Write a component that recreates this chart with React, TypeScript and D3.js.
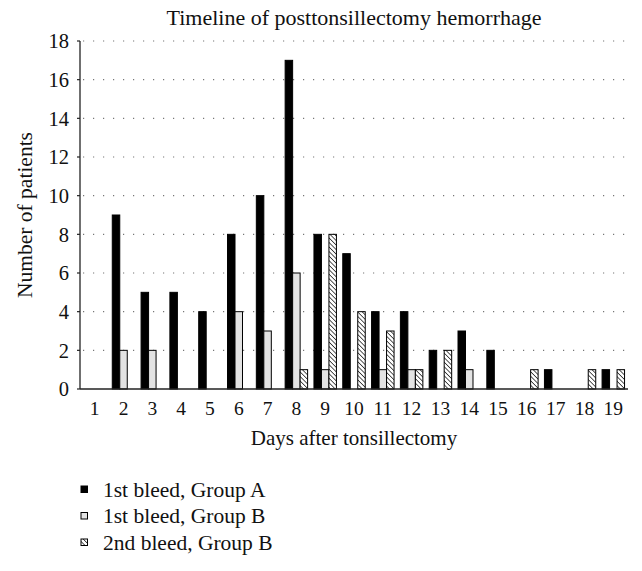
import React from 'react';
import * as d3 from 'd3';

const days = ['1', '2', '3', '4', '5', '6', '7', '8', '9', '10', '11', '12', '13', '14', '15', '16', '17', '18', '19'];
const firstBleedA = [0, 9, 5, 5, 4, 8, 10, 17, 8, 7, 4, 4, 2, 3, 2, 0, 1, 0, 1];
const firstBleedB = [0, 2, 2, 0, 0, 4, 3, 6, 1, 0, 1, 1, 0, 1, 0, 0, 0, 0, 0];
const secondBleedB = [0, 0, 0, 0, 0, 0, 0, 1, 8, 4, 3, 1, 2, 0, 0, 1, 0, 1, 1];
const yTicks = [0, 2, 4, 6, 8, 10, 12, 14, 16, 18];
const seriesNames = ['1st bleed, Group A', '1st bleed, Group B', '2nd bleed, Group B'];

const W = 642;
const H = 571;
const margin = { top: 41, right: 14, bottom: 182, left: 80 };
const FONT = '"Liberation Serif", "Times New Roman", serif';

const fills = ['#000000', '#e3e3e3', 'url(#hatch)'];

export default function App() {
  const x = d3.scaleBand<string>()
    .domain(days)
    .range([margin.left, W - margin.right])
    .paddingInner(0.22)
    .paddingOuter(0.12);

  const sub = d3.scaleBand<number>()
    .domain([0, 1, 2])
    .range([0, x.bandwidth()]);

  const y = d3.scaleLinear()
    .domain([0, 18])
    .range([H - margin.bottom, margin.top]);

  const series = [firstBleedA, firstBleedB, secondBleedB];
  const x0 = margin.left;
  const x1 = W - margin.right;
  const baseY = y(0);

  return (
    <svg width={W} height={H} style={{ position: 'absolute', left: 0, top: 0, background: '#fff' }}
      fontFamily={FONT}>
      <defs>
        <pattern id="hatch" patternUnits="userSpaceOnUse" width="3.2" height="3.2"
          patternTransform="rotate(-45)">
          <rect width="3.2" height="3.2" fill="#fff" />
          <line x1="0" y1="0" x2="0" y2="3.2" stroke="#000" strokeWidth="1.3" />
        </pattern>
      </defs>
      <rect width={W} height={H} fill="#fff" />

      <text x={(x0 + x1) / 2} y={25} textAnchor="middle" fontSize={22} fill="#111">
        Timeline of posttonsillectomy hemorrhage
      </text>

      {yTicks.filter(t => t > 0).map(t => (
        <line key={'g' + t} x1={x0 + 3} x2={x1} y1={y(t)} y2={y(t)}
          stroke="#777" strokeWidth={1.1} strokeDasharray="1.2,8.8" />
      ))}

      {days.map((d, i) => (
        <g key={d}>
          {series.map((s, k) => s[i] > 0 ? (
            <rect key={k}
              x={(x(d) || 0) + (sub(k) || 0)}
              y={y(s[i])}
              width={sub.bandwidth()}
              height={baseY - y(s[i])}
              fill={fills[k]}
              stroke="#000"
              strokeWidth={1} />
          ) : null)}
        </g>
      ))}

      <line x1={x0} x2={x0} y1={margin.top} y2={baseY} stroke="#222" strokeWidth={1.3} />
      <line x1={x0} x2={x1} y1={baseY} y2={baseY} stroke="#222" strokeWidth={1.3} />
      {yTicks.map(t => (
        <g key={'t' + t}>
          <line x1={x0 - 3} x2={x0} y1={y(t)} y2={y(t)} stroke="#222" strokeWidth={1.2} />
          <text x={x0 - 11} y={y(t)} dy="0.35em" textAnchor="end" fontSize={20.5} fill="#111">{t}</text>
        </g>
      ))}

      {days.map(d => (
        <text key={'x' + d} x={(x(d) || 0) + x.bandwidth() / 2} y={baseY + 26} textAnchor="middle"
          fontSize={19.5} fill="#111">{d}</text>
      ))}

      <text x={(x0 + x1) / 2} y={baseY + 56} textAnchor="middle" fontSize={21} fill="#111">
        Days after tonsillectomy
      </text>
      <text transform={`translate(${32},${(margin.top + baseY) / 2}) rotate(-90)`} textAnchor="middle"
        fontSize={21.5} fill="#111">
        Number of patients
      </text>

      {seriesNames.map((name, k) => (
        <g key={name} transform={`translate(81,${489 + k * 26.5})`}>
          <rect x={0} y={-3} width={6.5} height={6.5} fill={fills[k]} stroke="#000" strokeWidth={1} />
          <text x={22} y={0} dy="0.35em" fontSize={21.5} fill="#111">{name}</text>
        </g>
      ))}
    </svg>
  );
}
